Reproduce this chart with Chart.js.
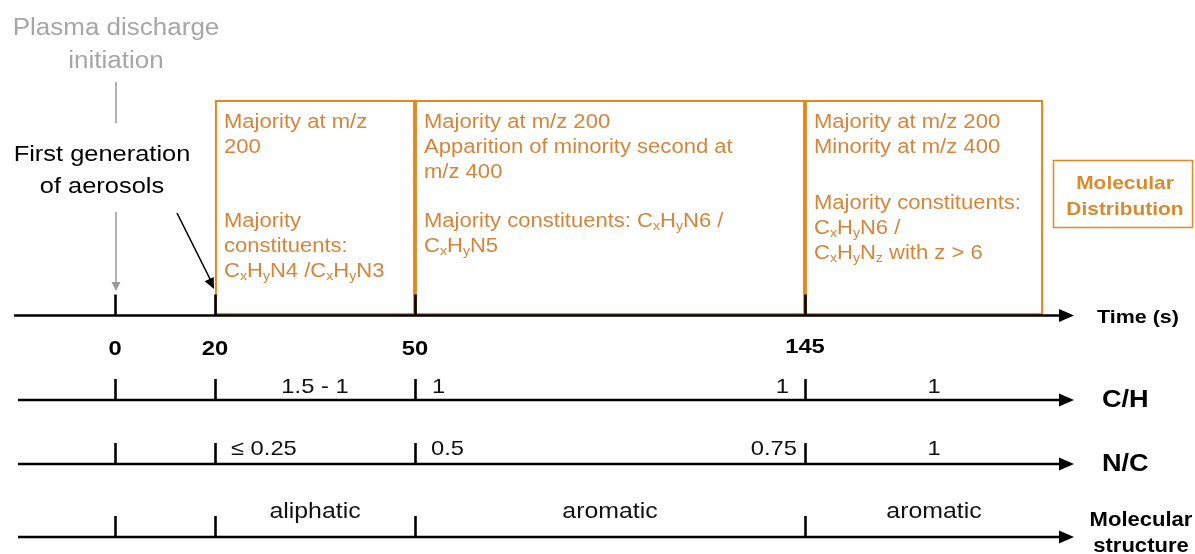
<!DOCTYPE html>
<html><head><meta charset="utf-8">
<script src="https://cdn.jsdelivr.net/npm/chart.js@4/dist/chart.umd.min.js"></script>
<style>html,body{margin:0;padding:0;background:#fff;overflow:hidden}canvas{display:block}</style>
</head><body>
<canvas id="c" width="1195" height="554"></canvas>
<script>
// ---------------- DATA ----------------
const timeTicks = [0, 20, 50, 145];
const timeTickLabels = ['0', '20', '50', '145'];

const phaseStarts = [20, 50, 145];
const phaseEnds = [50, 145, null];            // last phase is open-ended
const phaseMassText = [
  ['Majority at m/z', '200'],
  ['Majority at m/z 200', 'Apparition of minority second at', 'm/z 400'],
  ['Majority at m/z 200', 'Minority at m/z 400']
];
const phaseConstituentText = [
  ['Majority', 'constituents:', 'C_xH_yN4 /C_xH_yN3'],
  ['Majority constituents: C_xH_yN6 /', 'C_xH_yN5'],
  ['Majority constituents:', 'C_xH_yN6 /', 'C_xH_yN_z with z > 6']
];
const boxLegend = ['Molecular', 'Distribution'];

const eventTimes = [0, 20];
const eventLabels = [['Plasma discharge', 'initiation'], ['First generation', 'of aerosols']];

const axisNames = ['Time (s)', 'C/H', 'N/C', 'Molecular structure'];

const chValues = ['1.5 - 1', '1', '1', '1'];
const chFrom   = [20, 50, 50, 145];
const chTo     = [50, 145, 145, null];
const chAnchor = ['mid', 'start', 'end', 'mid'];

const ncValues = ['\u2264 0.25', '0.5', '0.75', '1'];
const ncFrom   = [20, 50, 50, 145];
const ncTo     = [50, 145, 145, null];
const ncAnchor = ['start', 'start', 'end', 'mid'];

const structValues = ['aliphatic', 'aromatic', 'aromatic'];
const structFrom   = [20, 50, 145];
const structTo     = [50, 145, null];
const structAnchor = ['mid', 'mid', 'mid'];

// ---------------- LAYOUT / STYLE ----------------
const FONT = '"Liberation Sans", Arial, Helvetica, sans-serif';
const SX = 1.13;                     // horizontal stretch of the original figure
const ORANGE = '#e38a1d';
const ORANGE_TEXT = '#d5853a';
const ORANGE_BOLD = '#d98a2c';
const GREY_TEXT = '#a6a6a6';
const GREY_LINE = '#9a9a9a';
const LAYOUT = {
  xRange: [-20, 200],
  xKnotPx: [14, 115, 215, 415, 805, 1043],  // pixel of [xMin, ...timeTicks, xMax]
  openEndPx: 1063,
  arrowTip: 1074,
  rows: { time: 315.5, ch: 400, nc: 464, mol: 537 },
  axisStart: { time: 14, ch: 18, nc: 18, mol: 18 },
  tickLen: 20,
  boxTop: 100, boxBottom: 315,
  textPad: 9, lineH: 25,
  massBaseline: 127.5,
  constBaseline: [227, 227, 208.5],
  valueBaseline: { ch: 393, nc: 455, mol: 518 },
  pads: { ch: { start: 17, end: 16 }, nc: { start: 16, end: 8 }, mol: { start: 16, end: 16 } }
};
const knotValues = [LAYOUT.xRange[0], ...timeTicks, LAYOUT.xRange[1]];

// ---------------- piecewise time scale ----------------
const LinearScale = Chart.LinearScale || Chart.registry.getScale('linear');
class PiecewiseScale extends LinearScale {
  getPixelForValue(v) {
    const vals = knotValues, px = LAYOUT.xKnotPx, W = 1195;
    let i = 0;
    while (i < vals.length - 2 && v > vals[i + 1]) i++;
    const t = (v - vals[i]) / (vals[i + 1] - vals[i]);
    const p = px[i] + t * (px[i + 1] - px[i]);
    return this.left + (p / W) * this.width;
  }
  getValueForPixel(pix) {
    const vals = knotValues, px = LAYOUT.xKnotPx, W = 1195;
    const p = (pix - this.left) / this.width * W;
    let i = 0;
    while (i < px.length - 2 && p > px[i + 1]) i++;
    const t = (p - px[i]) / (px[i + 1] - px[i]);
    return vals[i] + t * (vals[i + 1] - vals[i]);
  }
}
PiecewiseScale.id = 'piecewise';
PiecewiseScale.defaults = LinearScale.defaults;
Chart.register(PiecewiseScale);

// ---------------- text helpers ----------------
function richText(ctx, str, x, y, size, weight, color, align) {
  const segs = [];
  for (let i = 0; i < str.length; i++) {
    if (str[i] === '_' && i + 1 < str.length) { segs.push({ t: str[i + 1], sub: true }); i++; }
    else if (segs.length && !segs[segs.length - 1].sub) segs[segs.length - 1].t += str[i];
    else segs.push({ t: str[i], sub: false });
  }
  ctx.save();
  ctx.translate(x, y);
  ctx.scale(SX, 1);
  const fN = `${weight} ${size}px ${FONT}`, fS = `${weight} ${(size * 0.64).toFixed(1)}px ${FONT}`;
  let w = 0;
  segs.forEach(s => { ctx.font = s.sub ? fS : fN; s.w = ctx.measureText(s.t).width; w += s.w; });
  let cx = align === 'center' ? -w / 2 : (align === 'right' ? -w : 0);
  ctx.fillStyle = color; ctx.textAlign = 'left'; ctx.textBaseline = 'alphabetic';
  segs.forEach(s => { ctx.font = s.sub ? fS : fN; ctx.fillText(s.t, cx, s.sub ? size * 0.17 : 0); cx += s.w; });
  ctx.restore();
}
function arrowHead(ctx, x1, y1, x2, y2, len, half, color) {
  const a = Math.atan2(y2 - y1, x2 - x1);
  ctx.save();
  ctx.fillStyle = color;
  ctx.beginPath();
  ctx.moveTo(x2, y2);
  ctx.lineTo(x2 - len * Math.cos(a) + half * Math.sin(a), y2 - len * Math.sin(a) - half * Math.cos(a));
  ctx.lineTo(x2 - len * Math.cos(a) - half * Math.sin(a), y2 - len * Math.sin(a) + half * Math.cos(a));
  ctx.closePath();
  ctx.fill();
  ctx.restore();
}

// ---------------- drawing plugin ----------------
const timelinePlugin = {
  id: 'timeline',
  afterDatasetsDraw(chart) {
    const ctx = chart.ctx;
    const xs = chart.scales.x, ys = chart.scales.y;
    const X = v => xs.getPixelForValue(v);
    const Y = v => ys.getPixelForValue(v);
    const L = LAYOUT;

    // axes with arrows + ticks
    const rowKeys = ['time', 'ch', 'nc', 'mol'];
    rowKeys.forEach(k => {
      const y = Y(L.rows[k]);
      ctx.save();
      ctx.strokeStyle = '#000'; ctx.lineWidth = 2.6; ctx.lineCap = 'butt';
      ctx.beginPath(); ctx.moveTo(L.axisStart[k], y); ctx.lineTo(L.arrowTip - 10, y); ctx.stroke();
      timeTicks.forEach(t => {
        const x = Math.round(X(t)) + 0.5;
        ctx.beginPath(); ctx.moveTo(x, y - L.tickLen - 1); ctx.lineTo(x, y); ctx.stroke();
      });
      ctx.restore();
      arrowHead(ctx, L.arrowTip - 20, y, L.arrowTip, y, 15, 6.5, '#000');
    });

    // axis names
    richText(ctx, axisNames[0], 1097, 323, 19, 'bold', '#000', 'left');
    richText(ctx, axisNames[1], 1102, 407, 24, 'bold', '#000', 'left');
    richText(ctx, axisNames[2], 1102, 471, 24, 'bold', '#000', 'left');
    const molWords = axisNames[3].split(' ');
    richText(ctx, molWords[0], 1141, 526, 19.5, 'bold', '#000', 'center');
    richText(ctx, molWords[1], 1141, 552, 19.5, 'bold', '#000', 'center');

    // time tick labels
    timeTicks.forEach((t, i) => {
      richText(ctx, timeTickLabels[i], X(t), i === 3 ? 353 : 355, 21, 'bold', '#000', 'center');
    });

    // row values
    function rowLabels(vals, from, to, anchor, key) {
      const yb = L.valueBaseline[key], pad = L.pads[key];
      vals.forEach((txt, i) => {
        const x0 = X(from[i]);
        const x1 = to[i] === null ? L.openEndPx : X(to[i]);
        if (anchor[i] === 'mid') richText(ctx, txt, (x0 + x1) / 2, yb, key === 'mol' ? 22 : 21, 'normal', '#111', 'center');
        else if (anchor[i] === 'start') richText(ctx, txt, x0 + pad.start, yb, 21, 'normal', '#111', 'left');
        else richText(ctx, txt, x1 - pad.end, yb, 21, 'normal', '#111', 'right');
      });
    }
    rowLabels(chValues, chFrom, chTo, chAnchor, 'ch');
    rowLabels(ncValues, ncFrom, ncTo, ncAnchor, 'nc');
    rowLabels(structValues, structFrom, structTo, structAnchor, 'mol');

    // phase box texts
    phaseStarts.forEach((s, i) => {
      const x = X(s) + L.textPad;
      phaseMassText[i].forEach((ln, j) => richText(ctx, ln, x, L.massBaseline + j * L.lineH, 19.5, 'normal', ORANGE_TEXT, 'left'));
      phaseConstituentText[i].forEach((ln, j) => richText(ctx, ln, x, L.constBaseline[i] + j * L.lineH, 19.5, 'normal', ORANGE_TEXT, 'left'));
    });

    // Molecular Distribution legend box
    ctx.save();
    ctx.strokeStyle = ORANGE; ctx.lineWidth = 1.5;
    ctx.strokeRect(1053.5, 160.5, 139, 67);
    ctx.restore();
    richText(ctx, boxLegend[0], 1125, 189, 18.5, 'bold', ORANGE_BOLD, 'center');
    richText(ctx, boxLegend[1], 1125, 215, 18.5, 'bold', ORANGE_BOLD, 'center');

    // events: plasma discharge initiation
    const x0 = X(eventTimes[0]);
    richText(ctx, eventLabels[0][0], x0 + 1, 35, 23, 'normal', GREY_TEXT, 'center');
    richText(ctx, eventLabels[0][1], x0 + 1, 68, 23, 'normal', GREY_TEXT, 'center');
    ctx.save();
    ctx.strokeStyle = GREY_LINE; ctx.lineWidth = 1.5;
    ctx.beginPath(); ctx.moveTo(x0 + 1, 82); ctx.lineTo(x0 + 1, 123); ctx.stroke();
    ctx.beginPath(); ctx.moveTo(x0 + 1, 212); ctx.lineTo(x0 + 1, 284); ctx.stroke();
    ctx.restore();
    arrowHead(ctx, x0 + 1, 212, x0 + 1, 291, 9, 4.5, GREY_LINE);

    // first generation of aerosols
    richText(ctx, eventLabels[1][0], x0 - 13, 161, 22.5, 'normal', '#000', 'center');
    richText(ctx, eventLabels[1][1], x0 - 13, 193, 22.5, 'normal', '#000', 'center');
    const x20 = X(eventTimes[1]);
    ctx.save();
    ctx.strokeStyle = '#000'; ctx.lineWidth = 1.5;
    ctx.beginPath(); ctx.moveTo(177, 213); ctx.lineTo(x20 - 4, 281); ctx.stroke();
    ctx.restore();
    arrowHead(ctx, 177, 213, x20 - 1, 289, 11, 5, '#000');
  }
};

// ---------------- chart ----------------
const boxMid = (LAYOUT.boxTop + LAYOUT.boxBottom) / 2;
new Chart(document.getElementById('c'), {
  type: 'bar',
  data: {
    datasets: [{
      label: 'Phases',
      data: phaseStarts.map((s, i) => ({ x: [s, phaseEnds[i] === null ? LAYOUT.xRange[1] : phaseEnds[i]], y: boxMid })),
      backgroundColor: 'rgba(0,0,0,0)',
      borderColor: ORANGE,
      borderWidth: 1.6,
      borderSkipped: false,
      barThickness: LAYOUT.boxBottom - LAYOUT.boxTop
    }]
  },
  options: {
    indexAxis: 'y',
    responsive: false,
    animation: false,
    devicePixelRatio: 1,
    events: [],
    layout: { padding: 0 },
    scales: {
      x: { type: 'piecewise', min: LAYOUT.xRange[0], max: LAYOUT.xRange[1], display: false, offset: false },
      y: { type: 'linear', min: 0, max: 554, reverse: true, display: false, offset: false }
    },
    plugins: { legend: { display: false }, tooltip: { enabled: false }, title: { display: false } }
  },
  plugins: [timelinePlugin]
});
</script>
</body></html>
